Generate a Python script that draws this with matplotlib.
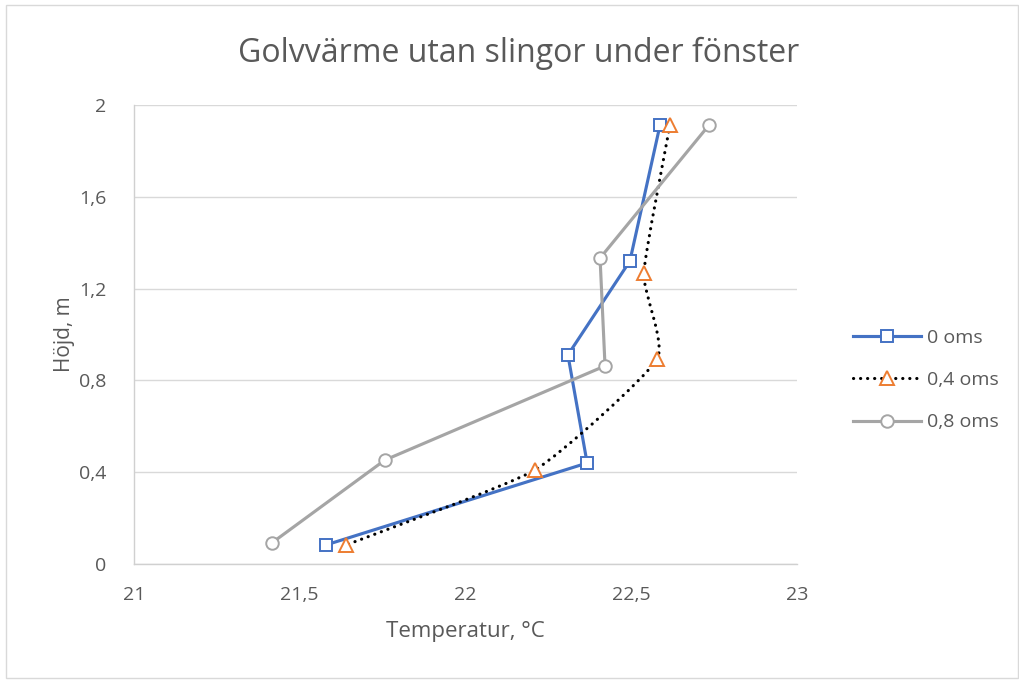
import numpy as np
import matplotlib.pyplot as plt
from matplotlib.path import Path
from matplotlib.patches import PathPatch, Rectangle
from matplotlib.lines import Line2D
from matplotlib.ticker import FuncFormatter

# data
temp_0 = [22.587, 22.496, 22.309, 22.367, 21.579]
hojd_0 = [1.913, 1.320, 0.911, 0.440, 0.083]
temp_04 = [22.617, 22.538, 22.578, 22.210, 21.640]
hojd_04 = [1.913, 1.268, 0.893, 0.410, 0.083]
temp_08 = [22.735, 22.406, 22.421, 21.757, 21.416]
hojd_08 = [1.913, 1.333, 0.863, 0.453, 0.092]

labels = ["0 oms", "0,4 oms", "0,8 oms"]
x_ticks = [21, 21.5, 22, 22.5, 23]
y_ticks = [0, 0.4, 0.8, 1.2, 1.6, 2.0]

blue = "#4472C4"
orange = "#ED7D31"
gray = "#A5A5A5"
txt = "#595959"
dots = (0, (0.05, 2.2))

plt.rcParams['font.family'] = ['Open Sans', 'DejaVu Sans']


def smooth_path(xs, ys, k=12):
    # smoothed line like Excel: cubic bezier through the points
    pts = np.column_stack([xs, ys])
    n = len(pts)
    verts = [pts[0]]
    codes = [Path.MOVETO]
    for i in range(n - 1):
        p0 = pts[max(i - 1, 0)]
        p1 = pts[i]
        p2 = pts[i + 1]
        p3 = pts[min(i + 2, n - 1)]
        c1 = p1 + (p2 - p0) / k
        c2 = p2 - (p3 - p1) / k
        verts += [c1, c2, p2]
        codes += [Path.CURVE4] * 3
    return Path(verts, codes)


fig = plt.figure(figsize=(10.19, 6.80), dpi=100)
ax = fig.add_axes([0.1315, 0.1706, 0.6506, 0.675])

fig.patches.append(Rectangle((0.006, 0.003), 0.993, 0.99, transform=fig.transFigure,
                             fill=False, edgecolor="#D9D9D9", linewidth=1))

ax.plot(temp_0, hojd_0, color=blue, lw=2.25, marker='s', ms=8.5,
        mfc='white', mec=blue, mew=1.4, zorder=3)

curve = PathPatch(smooth_path(temp_04, hojd_04), fill=False, edgecolor='black',
                  lw=2.25, linestyle=dots, capstyle='round', zorder=3)
ax.add_patch(curve)
ax.plot(temp_04, hojd_04, ls='none', marker='^', ms=9.5,
        mfc='white', mec=orange, mew=1.4, zorder=4)

ax.plot(temp_08, hojd_08, color=gray, lw=2.25, marker='o', ms=9,
        mfc='white', mec=gray, mew=1.4, zorder=3)

ax.set_xlim(21, 23)
ax.set_ylim(0, 2)
ax.set_xticks(x_ticks)
ax.set_yticks(y_ticks)
fmt = FuncFormatter(lambda v, p: f"{v:g}".replace('.', ','))
ax.xaxis.set_major_formatter(fmt)
ax.yaxis.set_major_formatter(fmt)
ax.tick_params(axis='x', length=0, labelsize=14, colors=txt, pad=16)
ax.tick_params(axis='y', length=0, labelsize=14, colors=txt, pad=20)
ax.grid(axis='y', color="#D9D9D9", lw=1)
ax.set_axisbelow(True)
for s in ['top', 'right']:
    ax.spines[s].set_visible(False)
for s in ['left', 'bottom']:
    ax.spines[s].set_color("#D0D0D0")
    ax.spines[s].set_linewidth(1)

ax.set_xlabel("Temperatur, °C", fontsize=16, color=txt, labelpad=12)
ax.set_ylabel("Höjd, m", fontsize=15, color=txt, labelpad=3)
fig.text(0.509, 0.922, "Golvvärme utan slingor under fönster", ha='center', va='center',
         fontsize=23, color=txt)

handles = [
    Line2D([], [], color=blue, lw=2.25, marker='s', ms=8.5, mfc='white', mec=blue, mew=1.4),
    Line2D([], [], color='black', lw=2.25, ls=dots, dash_capstyle='round',
           marker='^', ms=9.5, mfc='white', mec=orange, mew=1.4),
    Line2D([], [], color=gray, lw=2.25, marker='o', ms=9, mfc='white', mec=gray, mew=1.4),
]
fig.legend(handles, labels, loc='center left', bbox_to_anchor=(0.820, 0.441),
           frameon=False, fontsize=14, labelcolor=txt, handlelength=3.5,
           handletextpad=0.3, labelspacing=1.25)

plt.savefig("out.png", dpi=100)
